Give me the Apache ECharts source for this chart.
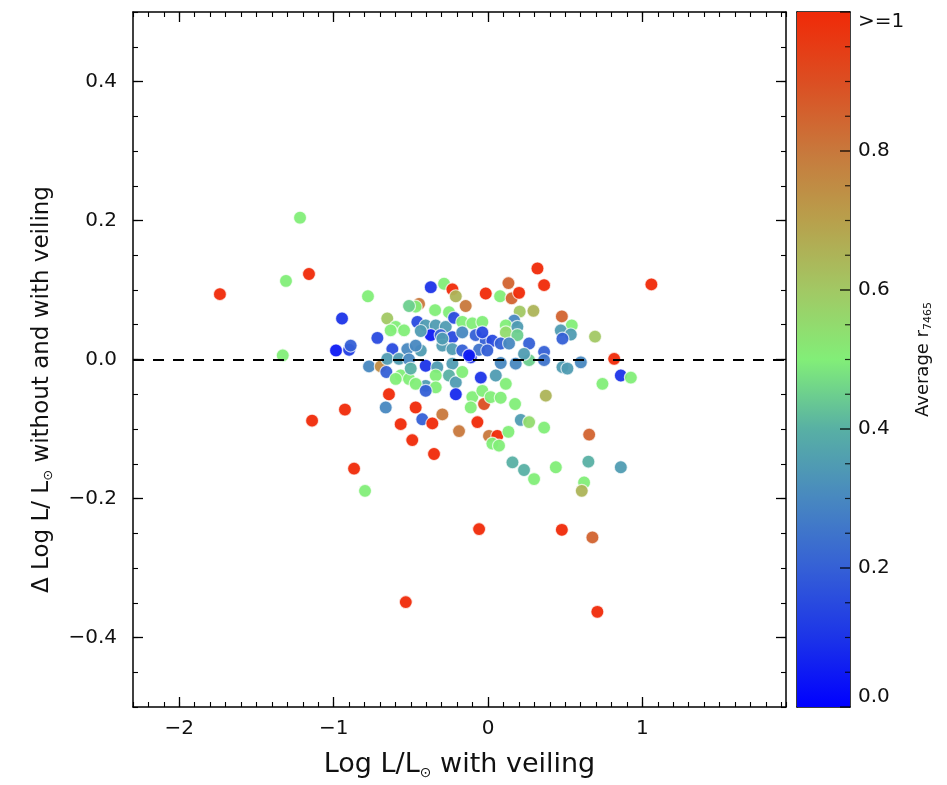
<!DOCTYPE html>
<html>
<head>
<meta charset="utf-8">
<script src="https://cdn.jsdelivr.net/npm/echarts@6/dist/echarts.min.js"></script>
<style>
  html, body { margin: 0; padding: 0; background: #fff; }
  #chart { width: 947px; height: 785px; }
</style>
</head>
<body>
<div id="chart"></div>
<script>
// Log L/Lsun with veiling
const logL = [
  -1.737, -1.218, -1.309, -1.160, -1.330, -1.140, -0.946, -0.985, -0.900, -0.927,
  -0.868, -0.797, -0.778, -0.771, -0.371, -0.285, -0.231, -0.209, -0.015, -0.145,
  -0.447, -0.469, -0.512, -0.343, -0.253, -0.653, -0.598, -0.544, -0.631, -0.458,
  -0.404, -0.339, -0.274, -0.220, -0.167, -0.102, -0.037, -0.371, -0.307, -0.231,
  -0.167, -0.080, -0.015, -0.717, -0.890, -0.620, -0.523, -0.436, -0.469, -0.296,
  -0.231, -0.167, -0.112, -0.058, -0.695, -0.653, -0.659, -0.577, -0.566, -0.512,
  -0.598, -0.404, -0.329, -0.231, -0.339, -0.404, -0.469, -0.339, -0.253, -0.209,
  -0.167, -0.047, -0.209, -0.102, -0.037, -0.642, -0.663, -0.469, -0.426, -0.296,
  -0.361, -0.566, -0.491, -0.350, -0.188, -0.069, -0.026, 0.078, 0.132, 0.153,
  0.201, 0.320, 0.363, 0.205, 0.294, 0.478, 0.542, 0.471, 0.536, 0.482,
  0.693, 1.058, 0.169, 0.115, 0.115, 0.190, 0.190, -0.037, 0.028, 0.082,
  0.136, 0.266, -0.123, 0.082, 0.179, 0.266, 0.363, 0.363, 0.482, 0.514,
  0.601, 0.817, 0.860, 0.925, 0.741, 0.050, 0.115, 0.374, 0.017, 0.082,
  0.175, -0.112, 0.006, 0.060, 0.028, 0.071, 0.132, 0.212, 0.266, 0.363,
  0.655, 0.158, 0.233, 0.298, 0.439, 0.650, 0.622, 0.607, 0.860, -0.058,
  0.478, 0.676, -0.533, 0.708, -0.436, -0.296, -0.512, -0.005, 0.233, -0.501,
  -0.404
];

// Delta Log L/Lsun without and with veiling
const dLogL = [
  0.094, 0.204, 0.113, 0.123, 0.006, -0.088, 0.059, 0.013, 0.014, -0.072,
  -0.157, -0.189, 0.091, -0.010, 0.104, 0.109, 0.101, 0.091, 0.095, 0.077,
  0.080, 0.076, 0.077, 0.071, 0.068, 0.059, 0.047, 0.042, 0.042, 0.054,
  0.049, 0.049, 0.047, 0.060, 0.054, 0.052, 0.054, 0.035, 0.035, 0.032,
  0.039, 0.035, 0.027, 0.031, 0.020, 0.015, 0.015, 0.013, 0.020, 0.020,
  0.015, 0.013, 0.003, 0.014, -0.010, 0.001, -0.018, 0.001, -0.023, -0.028,
  -0.028, -0.009, -0.011, -0.006, -0.023, -0.038, -0.035, -0.040, -0.023, -0.033,
  -0.018, -0.026, -0.050, -0.054, -0.045, -0.050, -0.069, -0.069, -0.086, -0.079,
  -0.092, -0.093, -0.116, -0.136, -0.103, -0.090, -0.064, 0.091, 0.110, 0.088,
  0.096, 0.131, 0.107, 0.069, 0.070, 0.062, 0.049, 0.042, 0.036, 0.030,
  0.033, 0.108, 0.056, 0.049, 0.039, 0.047, 0.035, 0.039, 0.027, 0.023,
  0.023, 0.023, 0.006, -0.005, -0.006, -0.001, 0.011, -0.001, -0.011, -0.013,
  -0.004, 0.001, -0.023, -0.026, -0.035, -0.023, -0.035, -0.052, -0.054, -0.055,
  -0.064, -0.069, -0.110, -0.110, -0.121, -0.124, -0.104, -0.087, -0.090, -0.098,
  -0.108, -0.148, -0.159, -0.172, -0.155, -0.147, -0.177, -0.189, -0.155, -0.244,
  -0.245, -0.256, -0.349, -0.363, 0.041, 0.030, 0.000, 0.013, 0.008, -0.013,
  -0.045
];

// Average r7465 (values of 1 or more share the top colour)
const rAvg = [
  1.00, 0.50, 0.50, 1.00, 0.50, 1.00, 0.10, 0.05, 0.12, 1.00,
  1.00, 0.50, 0.50, 0.30, 0.10, 0.50, 1.00, 0.65, 1.00, 0.80,
  0.80, 0.50, 0.45, 0.50, 0.50, 0.60, 0.50, 0.50, 0.50, 0.15,
  0.35, 0.35, 0.35, 0.15, 0.50, 0.50, 0.50, 0.05, 0.20, 0.15,
  0.30, 0.20, 0.20, 0.15, 0.20, 0.15, 0.30, 0.35, 0.30, 0.35,
  0.35, 0.20, 0.10, 0.25, 0.75, 0.35, 0.20, 0.35, 0.50, 0.50,
  0.50, 0.10, 0.35, 0.35, 0.50, 0.35, 0.50, 0.50, 0.40, 0.35,
  0.50, 0.10, 0.08, 0.50, 0.50, 1.00, 0.30, 1.00, 0.20, 0.80,
  1.00, 1.00, 1.00, 1.00, 0.80, 1.00, 0.90, 0.50, 0.85, 0.85,
  1.00, 1.00, 1.00, 0.60, 0.65, 0.85, 0.50, 0.35, 0.35, 0.20,
  0.60, 1.00, 0.30, 0.50, 0.55, 0.35, 0.45, 0.15, 0.15, 0.20,
  0.30, 0.20, 0.05, 0.30, 0.30, 0.45, 0.20, 0.25, 0.35, 0.35,
  0.30, 1.00, 0.10, 0.50, 0.50, 0.35, 0.50, 0.65, 0.50, 0.50,
  0.50, 0.50, 0.80, 1.00, 0.50, 0.50, 0.50, 0.35, 0.55, 0.50,
  0.85, 0.40, 0.40, 0.50, 0.50, 0.40, 0.50, 0.65, 0.35, 1.00,
  1.00, 0.85, 1.00, 1.00, 0.35, 0.35, 0.30, 0.20, 0.35, 0.40,
  0.20
];

// Tick values
const xMajorTicks = [-2, -1, 0, 1];
const yMajorTicks = [-0.4, -0.2, 0.0, 0.2, 0.4];
const cbTicks = [0, 0.2, 0.4, 0.6, 0.8, 1];
const cbMinorTicks = [0.05, 0.1, 0.15, 0.25, 0.3, 0.35, 0.45, 0.5, 0.55, 0.65, 0.7, 0.75, 0.85, 0.9, 0.95];

// Colour table, evenly spaced from 0 to 1
const colorTable = [
  '#0000ff', '#1c34e8', '#3560d6', '#4888c0', '#58b0a4', '#82ee78',
  '#a2c864', '#b8a04c', '#c8783c', '#dc4e22', '#f02a08'
];

const X_MIN = -2.3, X_MAX = 1.93, Y_MIN = -0.5, Y_MAX = 0.5;
const FONT = "'DejaVu Sans', Verdana, sans-serif";
const minus = s => String(s).replace('-', '\u2212');

const points = logL.map((x, i) => [x, dLogL[i], rAvg[i]]);

const chart = echarts.init(document.getElementById('chart'), null, { renderer: 'canvas' });

const axisLine = { show: true, onZero: false, lineStyle: { color: '#000', width: 1.5 } };
const noLine = { show: false, onZero: false };

function majorX(position, withLabels) {
  return {
    type: 'value', gridIndex: 0, position, min: X_MIN, max: X_MAX,
    axisLine, splitLine: { show: false },
    axisTick: { show: true, inside: true, length: 10, customValues: xMajorTicks, lineStyle: { color: '#000', width: 1.3 } },
    axisLabel: withLabels ? {
      show: true, customValues: xMajorTicks, color: '#111', fontFamily: FONT, fontSize: 20, margin: 12,
      formatter: v => minus(Math.round(v))
    } : { show: false }
  };
}
function minorX(position) {
  return {
    type: 'value', gridIndex: 0, position, min: X_MIN, max: X_MAX, interval: 0.1,
    axisLine: noLine, splitLine: { show: false }, axisLabel: { show: false },
    axisTick: { show: true, inside: true, length: 5, lineStyle: { color: '#000', width: 1.1 } }
  };
}
function majorY(position, withLabels) {
  return {
    type: 'value', gridIndex: 0, position, min: Y_MIN, max: Y_MAX,
    axisLine, splitLine: { show: false },
    axisTick: { show: true, inside: true, length: 10, customValues: yMajorTicks, lineStyle: { color: '#000', width: 1.3 } },
    axisLabel: withLabels ? {
      show: true, customValues: yMajorTicks, color: '#111', fontFamily: FONT, fontSize: 20, margin: 16,
      formatter: v => minus(v.toFixed(1))
    } : { show: false }
  };
}
function minorY(position) {
  return {
    type: 'value', gridIndex: 0, position, min: Y_MIN, max: Y_MAX, interval: 0.05,
    axisLine: noLine, splitLine: { show: false }, axisLabel: { show: false },
    axisTick: { show: true, inside: true, length: 5, lineStyle: { color: '#000', width: 1.1 } }
  };
}

const xMain = majorX('bottom', true);
xMain.name = '{t|Log L/L}{s|\u2299}{t| with veiling}';
xMain.nameLocation = 'middle';
xMain.nameGap = 43;
xMain.nameTextStyle = {
  color: '#111',
  rich: {
    t: { fontFamily: FONT, fontSize: 27, color: '#111', lineHeight: 30 },
    s: { fontFamily: FONT, fontSize: 14, color: '#111', verticalAlign: 'bottom', lineHeight: 30, padding: [14, 0, 0, 0] }
  }
};

const yMain = majorY('left', true);
yMain.name = '{t|\u0394 Log L/ L}{s|\u2299}{t| without and with veiling}';
yMain.nameLocation = 'middle';
yMain.nameGap = 78;
yMain.nameRotate = 90;
yMain.nameTextStyle = {
  color: '#111',
  padding: [0, 60, 0, 0],
  rich: {
    t: { fontFamily: FONT, fontSize: 23, color: '#111', lineHeight: 26 },
    s: { fontFamily: FONT, fontSize: 13, color: '#111', verticalAlign: 'bottom', lineHeight: 26, padding: [12, 0, 0, 0] }
  }
};

const cbEdgeAxis = position => ({
  type: 'value', gridIndex: 1, position, min: 0, max: 1,
  axisLine: { show: true, onZero: false, lineStyle: { color: '#000', width: 1.5 } },
  axisTick: { show: false }, axisLabel: { show: false }, splitLine: { show: false }
});

// short horizontal bars sitting against the colour bar's right edge
const cbTickSeries = (values, len, width) => ({
  type: 'scatter', xAxisIndex: 4, yAxisIndex: 4, z: 10, silent: true,
  symbol: 'rect', symbolSize: [len, width], symbolOffset: [-len / 2, 0],
  itemStyle: { color: '#000' },
  data: values.map(v => [1, v])
});

const option = {
  backgroundColor: '#fff',
  animation: false,
  grid: [
    { left: 133, right: 161, top: 12, bottom: 78, containLabel: false },
    { left: 797, right: 97, top: 12, bottom: 78, containLabel: false }
  ],
  xAxis: [
    xMain,
    minorX('bottom'),
    majorX('top', false),
    minorX('top'),
    cbEdgeAxis('bottom'),
    cbEdgeAxis('top')
  ],
  yAxis: [
    yMain,
    minorY('left'),
    majorY('right', false),
    minorY('right'),
    {
      type: 'value', gridIndex: 1, position: 'right', min: 0, max: 1,
      axisLine: { show: true, onZero: false, lineStyle: { color: '#000', width: 1.5 } },
      splitLine: { show: false },
      axisTick: { show: false },
      axisLabel: {
        show: true, customValues: cbTicks, color: '#111', fontFamily: FONT, fontSize: 20, margin: 8,
        verticalAlignMinLabel: 'bottom', verticalAlignMaxLabel: 'top',
        formatter: v => (v >= 1 ? '>=1' : v.toFixed(1))
      },
      name: '{t|Average r}{s|7465}',
      nameLocation: 'middle',
      nameGap: 62,
      nameRotate: 90,
      nameTextStyle: {
        color: '#111',
        rich: {
          t: { fontFamily: FONT, fontSize: 18, color: '#111', lineHeight: 22 },
          s: { fontFamily: FONT, fontSize: 11, color: '#111', verticalAlign: 'bottom', lineHeight: 22, padding: [9, 0, 0, 0] }
        }
      }
    },
    cbEdgeAxis('left')
  ],
  visualMap: {
    show: false, type: 'continuous', min: 0, max: 1, dimension: 2, seriesIndex: 0,
    inRange: { color: colorTable }
  },
  series: [
    {
      type: 'scatter', xAxisIndex: 0, yAxisIndex: 0, z: 2,
      symbol: 'circle', symbolSize: 13,
      itemStyle: { opacity: 0.95, borderColor: 'rgba(255,255,255,0.75)', borderWidth: 1.2 },
      data: points
    },
    {
      // dashed reference line at zero offset
      type: 'scatter', xAxisIndex: 0, yAxisIndex: 0, z: 5, data: [],
      markLine: {
        silent: true, symbol: ['none', 'none'], label: { show: false },
        lineStyle: { color: '#000', type: [11, 9], width: 2 },
        data: [{ yAxis: 0 }]
      }
    },
    {
      // colour bar gradient strip
      type: 'custom', xAxisIndex: 4, yAxisIndex: 4, z: 1, silent: true,
      data: [[0, 0]],
      renderItem: (params, api) => {
        const p0 = api.coord([0, 0]);
        const p1 = api.coord([1, 1]);
        return {
          type: 'rect',
          shape: { x: p0[0], y: p1[1], width: p1[0] - p0[0], height: p0[1] - p1[1] },
          style: {
            fill: {
              type: 'linear', x: 0, y: 1, x2: 0, y2: 0,
              colorStops: colorTable.map((c, i) => ({ offset: i / (colorTable.length - 1), color: c }))
            }
          }
        };
      }
    },
    cbTickSeries(cbTicks, 10, 1.5),
    cbTickSeries(cbMinorTicks, 5, 1.2)
  ]
};

chart.setOption(option);
</script>
</body>
</html>
